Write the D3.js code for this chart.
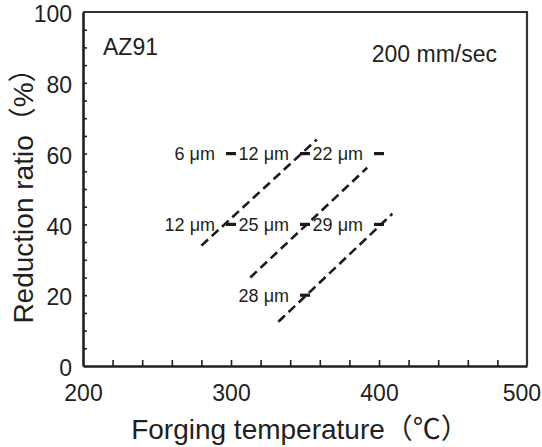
<!DOCTYPE html>
<html>
<head>
<meta charset="utf-8">
<script src="https://cdn.jsdelivr.net/npm/d3@7"></script>
<style>
  html, body { margin: 0; padding: 0; background: #fff; }
  svg { display: block; }
  text { font-family: "Liberation Sans", Arial, "Noto Sans CJK JP", sans-serif; fill: #231f20; }
</style>
</head>
<body>
<svg id="chart" width="542" height="447"></svg>
<script>
// ---- data ----
const xTicks = [200, 300, 400, 500];
const yTicks = [0, 20, 40, 60, 80, 100];
const xMinor = [220, 240, 260, 280, 300, 320, 340, 360, 380, 400, 420, 440, 460, 480];
const yMinor = [5, 10, 15, 20, 25, 30, 35, 40, 45, 50, 55, 60, 65, 70, 75, 80, 85, 90, 95];

// dashed iso-lines: [temperature, reduction ratio] endpoints
const line1 = [[280, 34], [358, 64]];
const line2 = [[313, 25], [392, 56]];
const line3 = [[332, 12.5], [409, 43]];
const dashedLines = [line1, line2, line3];

// grain-size points
const pointTemps = [300, 350, 400, 300, 350, 400, 350];
const pointRatios = [60, 60, 60, 40, 40, 40, 20];
const pointLabels = ["6 μm", "12 μm", "22 μm", "12 μm", "25 μm", "29 μm", "28 μm"];

const xTitle = "Forging temperature（℃）";
const yTitle = "Reduction ratio（%）";
const alloyLabel = "AZ91";
const speedLabel = "200 mm/sec";

// ---- layout ----
const svg = d3.select("#chart");
const W = 542;
const L = 83, R = 527, T = 12, B = 366;
const x = d3.scaleLinear().domain([200, 500]).range([L, R]);
const y = d3.scaleLinear().domain([0, 100]).range([B, T]);
const ink = "#231f20";

// frame (top/right)
svg.append("path")
  .attr("d", `M${L},${T}H${R}V${B}`)
  .attr("fill", "none").attr("stroke", "#333").attr("stroke-width", 2.2);

// minor ticks (inward)
const xMinorAxis = svg.append("g").attr("transform", `translate(0,${B})`)
  .call(d3.axisBottom(x).tickValues(xMinor).tickSize(-6).tickFormat(""));
const yMinorAxis = svg.append("g").attr("transform", `translate(${L},0)`)
  .call(d3.axisLeft(y).tickValues(yMinor).tickSize(-4).tickFormat(""));
[xMinorAxis, yMinorAxis].forEach(g => {
  g.select(".domain").remove();
  g.selectAll("line").attr("stroke", ink).attr("stroke-width", 1.6);
});

// labelled axes
const xAxis = svg.append("g").attr("transform", `translate(0,${B})`)
  .call(d3.axisBottom(x).tickValues(xTicks).tickSize(0).tickPadding(19).tickFormat(d3.format("d")));
const yAxis = svg.append("g").attr("transform", `translate(${L},0)`)
  .call(d3.axisLeft(y).tickValues(yTicks).tickSize(0).tickPadding(11).tickFormat(d3.format("d")));
[xAxis, yAxis].forEach(g => {
  g.select(".domain").attr("stroke", ink).attr("stroke-width", 2.6);
  g.selectAll("text").attr("font-size", 23).attr("fill", ink)
    .style("font-family", '"Liberation Sans", Arial, sans-serif');
});
yAxis.selectAll("text").attr("dy", "0.42em");
// keep the last x label inside the window
xAxis.selectAll(".tick text").each(function () {
  const bb = this.getBBox();
  const tx = +this.parentNode.getAttribute("transform").match(/translate\(([-\d.]+)/)[1];
  const over = tx + bb.x + bb.width - (W - 1);
  if (over > 0) d3.select(this).attr("x", -over);
});

// axis titles
svg.append("text")
  .attr("x", 300).attr("y", 439)
  .attr("text-anchor", "middle").attr("font-size", 28)
  .text(xTitle);
svg.append("text")
  .attr("transform", `translate(33,${(T + B) / 2}) rotate(-90)`)
  .attr("text-anchor", "middle").attr("font-size", 28)
  .text(yTitle);

// annotations
svg.append("text").attr("x", 103).attr("y", 55).attr("font-size", 23).text(alloyLabel);
svg.append("text").attr("x", 497).attr("y", 62).attr("text-anchor", "end").attr("font-size", 23).text(speedLabel);

// dashed lines
const lineGen = d3.line().x(d => x(d[0])).y(d => y(d[1]));
svg.append("g").selectAll("path").data(dashedLines).join("path")
  .attr("d", lineGen)
  .attr("fill", "none").attr("stroke", "#1a1a1a")
  .attr("stroke-width", 2.6).attr("stroke-dasharray", "9,5");

// point markers (short horizontal bars) and labels
const pts = pointTemps.map((t, i) => ({ t, r: pointRatios[i], label: pointLabels[i] }));
const gp = svg.append("g");
gp.selectAll("line").data(pts).join("line")
  .attr("x1", d => x(d.t) - 5).attr("x2", d => x(d.t) + 5)
  .attr("y1", d => y(d.r)).attr("y2", d => y(d.r))
  .attr("stroke", "#1a1a1a").attr("stroke-width", 3.2);
gp.selectAll("text").data(pts).join("text")
  .attr("x", d => x(d.t) - 16).attr("y", d => y(d.r))
  .attr("dy", "0.36em").attr("text-anchor", "end").attr("font-size", 18)
  .text(d => d.label);
</script>
</body>
</html>
